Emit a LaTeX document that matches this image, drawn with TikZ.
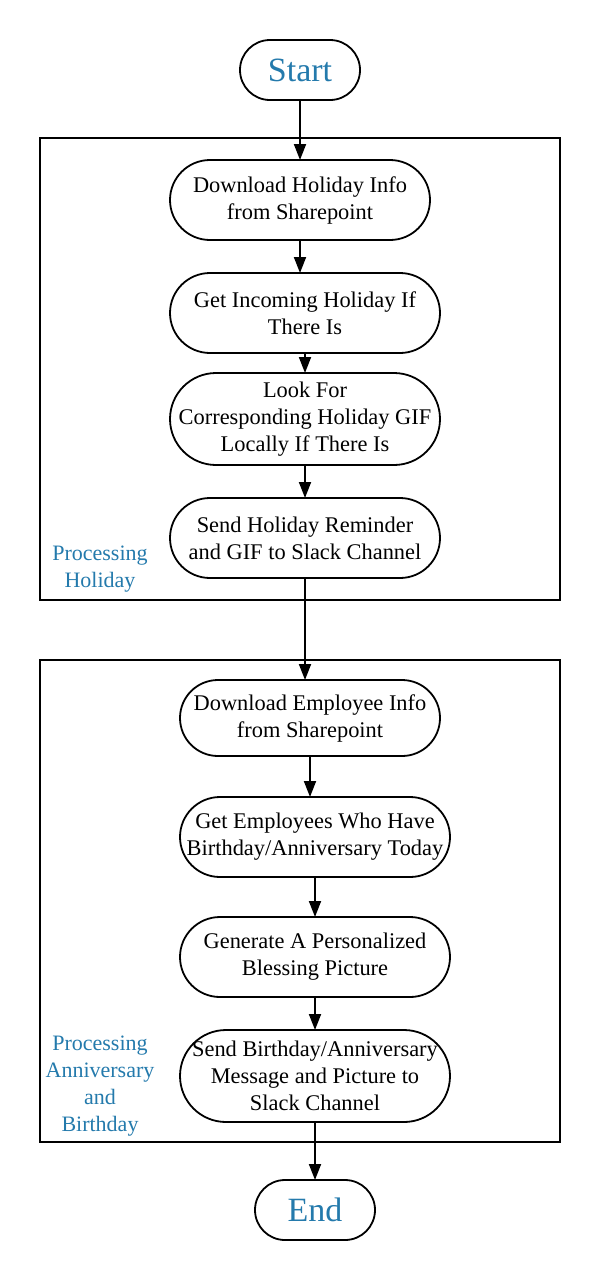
\documentclass[tikz,border=0pt]{standalone}
\usepackage{fontspec}
\setmainfont{Liberation Serif}
\usetikzlibrary{positioning,arrows.meta}
\definecolor{labelblue}{RGB}{36,122,172}

\tikzset{
  proc/.style={draw, line width=1.8pt, outer sep=0pt, rounded corners=40pt, minimum width=270pt,
    minimum height=80pt, inner sep=0pt, align=center, font=\fontsize{22.4}{27}\selectfont},
  term/.style={draw, line width=1.8pt, outer sep=0pt, rounded corners=30pt, minimum width=120pt,
    minimum height=60pt, inner sep=0pt, text=labelblue, font=\fontsize{34}{40}\selectfont},
  flow/.style={line width=1.8pt, -{Triangle[length=16pt,width=12pt]}},
  group/.style={draw, line width=1.8pt},
  grouplabel/.style={text=labelblue, align=center, font=\fontsize{22}{27}\selectfont}
}

\begin{document}
\begin{tikzpicture}[x=1pt, y=-1pt]
  \useasboundingbox (0,0) rectangle (600,1280);

  \node [term] (start) at (300,70) {Start};
  \node [proc, minimum width=260pt, below=60pt of start] (dlholiday)
    {Download Holiday Info\\from Sharepoint};
  \node [proc, below=33pt of dlholiday, xshift=5pt] (getholiday)
    {Get Incoming Holiday If\\There Is};
  \node [proc, minimum height=92pt, rounded corners=46pt, below=20pt of getholiday] (lookgif)
    {Look For\\Corresponding Holiday GIF\\Locally If There Is};
  \node [proc, below=33pt of lookgif] (sendholiday)
    {Send Holiday Reminder\\and GIF to Slack Channel};

  \node [proc, minimum width=260pt, minimum height=76pt, rounded corners=38pt,
    below=102pt of sendholiday, xshift=5pt] (dlemployee)
    {Download Employee Info\\from Sharepoint};
  \node [proc, below=41pt of dlemployee, xshift=5pt] (getemployee)
    {Get Employees Who Have\\Birthday/Anniversary Today};
  \node [proc, below=40pt of getemployee] (genpicture)
    {Generate A Personalized\\Blessing Picture};
  \node [proc, minimum height=92pt, rounded corners=46pt, below=33pt of genpicture] (sendbirthday)
    {Send Birthday/Anniversary\\Message and Picture to\\Slack Channel};
  \node [term, below=58pt of sendbirthday] (end) {End};

  \coordinate (h1) at (40,138);
  \coordinate (h2) at (560,600);
  \coordinate (b1) at (40,660);
  \coordinate (b2) at (560,1142);
  \draw [group] (h1) rectangle (h2);
  \draw [group] (b1) rectangle (b2);
  \node [grouplabel] (holidaylabel) at (100,569) {Processing\\Holiday};
  \node [grouplabel] (birthdaylabel) at (100,1086) {Processing\\Anniversary\\and\\Birthday};

  \draw [flow] (start) -- (dlholiday);
  \draw [flow] (dlholiday.south) -- (dlholiday.south |- getholiday.north);
  \draw [flow] (getholiday) -- (lookgif);
  \draw [flow] (lookgif) -- (sendholiday);
  \draw [flow] (sendholiday.south) -- (sendholiday.south |- dlemployee.north);
  \draw [flow] (dlemployee.south) -- (dlemployee.south |- getemployee.north);
  \draw [flow] (getemployee) -- (genpicture);
  \draw [flow] (genpicture) -- (sendbirthday);
  \draw [flow] (sendbirthday) -- (end);
\end{tikzpicture}
\end{document}
